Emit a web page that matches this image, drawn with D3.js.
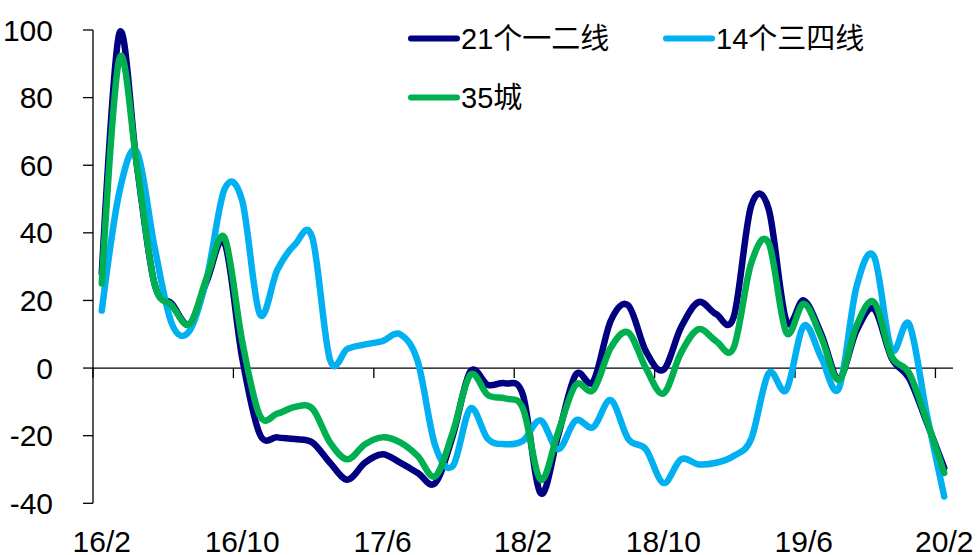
<!DOCTYPE html>
<html>
<head>
<meta charset="utf-8">
<script src="https://cdn.jsdelivr.net/npm/d3@7"></script>
<style>
  html, body { margin: 0; padding: 0; background: #ffffff; }
  svg { display: block; }
  text { font-family: "Liberation Sans", Arial, "Noto Sans CJK SC", sans-serif; fill: #000; }
</style>
</head>
<body>
<script>
// Monthly categories, Feb 2016 – Feb 2020
const months = [
  "16/2","16/3","16/4","16/5","16/6","16/7","16/8","16/9","16/10","16/11","16/12",
  "17/1","17/2","17/3","17/4","17/5","17/6","17/7","17/8","17/9","17/10","17/11","17/12",
  "18/1","18/2","18/3","18/4","18/5","18/6","18/7","18/8","18/9","18/10","18/11","18/12",
  "19/1","19/2","19/3","19/4","19/5","19/6","19/7","19/8","19/9","19/10","19/11","19/12",
  "20/1","20/2"
];

// 21 first/second-tier cities
const tier12 = [
  28, 99, 60, 25, 19, 13, 26, 37, 3, -19.5, -20.5,
  -21, -22, -28, -33, -28, -25.5, -28, -31, -34, -20, -1, -5,
  -4.5, -8, -37, -20, -2, -4, 14, 18.5, 5, -0.5, 12, 19.5,
  16, 15, 48, 47, 14, 20, 10, -3, 11, 17.5, 3, -3,
  -16, -29.5
];

// 14 third/fourth-tier cities
const tier34 = [
  17, 52, 64, 36, 13, 11, 27, 53, 49.5, 16, 29,
  36.5, 38.5, 2.5, 5.7, 7, 8, 10, 2, -23, -29, -12, -21,
  -22.5, -21.5, -15.5, -24, -15.5, -17.5, -9.5, -21, -24, -34, -27, -28.5,
  -28, -26, -21, -1.5, -6.5, 12.5, 3, -6, 24, 33, 5.5, 13,
  -13.5, -38
];

// 35 cities overall
const city35 = [
  25, 91.5, 60, 25, 18.5, 13, 27, 38.5, 8, -14, -13.5,
  -11.5, -12, -22, -27, -22.5, -20.5, -22, -26, -32, -19, -2, -8,
  -9, -12, -33, -19, -5, -6.5, 6, 10.5, 0, -7.5, 4.5, 11.5,
  8, 6, 31, 37, 10.5, 19, 9, -3.5, 12.5, 19.5, 3.5, -1.5,
  -15.5, -31
];

const yTicks = [-40, -20, 0, 20, 40, 60, 80, 100];
const labelEvery = 8;

const series = [
  { name: "21个一二线", values: tier12, color: "#000080" },
  { name: "14个三四线", values: tier34, color: "#00B0F0" },
  { name: "35城",       values: city35, color: "#00B050" }
];

const W = 978, H = 555;
const plot = { left: 93, right: 953, top: 30, bottom: 503.3 };

const svg = d3.select("body").append("svg")
  .attr("width", W).attr("height", H);

const x = d3.scaleBand().domain(months).range([plot.left, plot.right]).padding(0);
const y = d3.scaleLinear().domain([-40, 100]).range([plot.bottom, plot.top]);
const cx = d => x(d) + x.bandwidth() / 2;

// Y axis
const yAxis = svg.append("g");
yAxis.append("line")
  .attr("x1", plot.left).attr("x2", plot.left)
  .attr("y1", y(100)).attr("y2", y(-40))
  .attr("stroke", "#000").attr("stroke-width", 1.3);
yAxis.selectAll("line.tick").data(yTicks).join("line")
  .attr("class", "tick")
  .attr("x1", plot.left - 10).attr("x2", plot.left)
  .attr("y1", d => y(d)).attr("y2", d => y(d))
  .attr("stroke", "#000").attr("stroke-width", 1.3);
yAxis.selectAll("text").data(yTicks).join("text")
  .attr("x", 53).attr("y", d => y(d))
  .attr("text-anchor", "end").attr("dominant-baseline", "central")
  .style("font-size", "30px")
  .text(d => d);

// Smoothed series lines
const line = d3.line()
  .x((d, i) => cx(months[i]))
  .y(d => y(d))
  .curve(d3.curveCatmullRom.alpha(0));

// X axis at zero
const xAxis = svg.append("g");
xAxis.append("line")
  .attr("x1", plot.left).attr("x2", plot.right)
  .attr("y1", y(0)).attr("y2", y(0))
  .attr("stroke", "#000").attr("stroke-width", 1.3);
const labelled = months.filter((m, i) => i % labelEvery === 0);
xAxis.selectAll("line.tick").data(labelled).join("line")
  .attr("class", "tick")
  .attr("x1", d => x(d)).attr("x2", d => x(d))
  .attr("y1", y(0)).attr("y2", y(0) + 10)
  .attr("stroke", "#000").attr("stroke-width", 1.3);
xAxis.selectAll("text").data(labelled).join("text")
  .attr("x", d => cx(d)).attr("y", 552)
  .attr("text-anchor", "middle")
  .style("font-size", "30px")
  .text(d => d);

svg.append("g").selectAll("path").data(series).join("path")
  .attr("d", d => line(d.values))
  .attr("fill", "none")
  .attr("stroke", d => d.color)
  .attr("stroke-width", 6.5)
  .attr("stroke-linejoin", "round")
  .attr("stroke-linecap", "round");

// Legend
const legendPos = [
  { lx: 411, ly: 38.5 },
  { lx: 666, ly: 38.5 },
  { lx: 411, ly: 97.5 }
];
const legend = svg.append("g").selectAll("g").data(series).join("g")
  .attr("transform", (d, i) => `translate(${legendPos[i].lx},${legendPos[i].ly})`);
legend.append("line")
  .attr("x1", 0).attr("x2", 46)
  .attr("stroke", d => d.color).attr("stroke-width", 6)
  .attr("stroke-linecap", "round");
legend.append("text")
  .attr("x", 50).attr("y", 0)
  .attr("dominant-baseline", "central")
  .style("font-size", "29px")
  .text(d => d.name);
</script>
</body>
</html>
